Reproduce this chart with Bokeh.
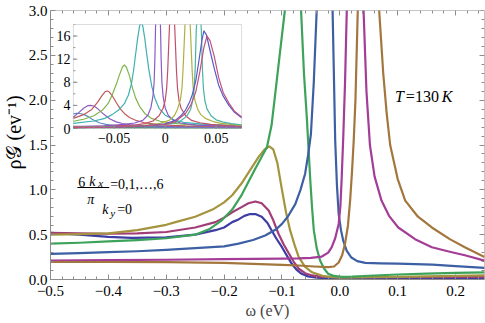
import numpy as np
from bokeh.plotting import figure
from bokeh.models import Range1d, LinearAxis, FixedTicker, Label, BoxAnnotation, Title
from bokeh.core.properties import value
from bokeh.embed import file_html
from bokeh.resources import INLINE

SERIF = "'Liberation Serif', 'Times New Roman', serif"

# ---------------- main plot data (6 kx / pi = 0..6, ky = 0) ----------------
blue1_x = [-0.5, -0.45, -0.4, -0.36, -0.3, -0.25, -0.215, -0.2, -0.186, -0.175, -0.165, -0.155, -0.146, -0.135,
           -0.125, -0.118, -0.11, -0.1, -0.09, -0.083, -0.075, -0.066, -0.055, -0.04, -0.02, 0.0, 0.1, 0.25]
blue1_y = [0.52, 0.50, 0.475, 0.465, 0.47, 0.50, 0.55, 0.58, 0.64, 0.67, 0.71, 0.73, 0.73, 0.70,
           0.63, 0.55, 0.46, 0.36, 0.25, 0.175, 0.11, 0.063, 0.035, 0.02, 0.013, 0.01, 0.01, 0.012]

magenta1_x = [-0.5, -0.45, -0.4, -0.35, -0.3, -0.25, -0.215, -0.2, -0.186, -0.169, -0.158, -0.146, -0.135,
              -0.123, -0.115, -0.106, -0.097, -0.088, -0.08, -0.071, -0.06, -0.048, -0.03, 0.0, 0.1, 0.25]
magenta1_y = [0.52, 0.515, 0.51, 0.515, 0.53, 0.58, 0.64, 0.69, 0.75, 0.81, 0.85, 0.87, 0.85,
              0.77, 0.66, 0.51, 0.39, 0.29, 0.20, 0.12, 0.07, 0.045, 0.03, 0.025, 0.025, 0.03]

olive_x = [-0.5, -0.45, -0.4, -0.35, -0.3, -0.284, -0.25, -0.22, -0.2, -0.186, -0.17, -0.152, -0.14, -0.13,
           -0.122, -0.115, -0.108, -0.1, -0.093, -0.086, -0.078, -0.071, -0.06, -0.048, -0.03, -0.014, 0.0,
           0.05, 0.1, 0.15, 0.2, 0.25]
olive_y = [0.50, 0.505, 0.515, 0.55, 0.61, 0.64, 0.70, 0.78, 0.86, 0.94, 1.07, 1.25, 1.37, 1.45,
           1.485, 1.45, 1.30, 1.00, 0.75, 0.55, 0.38, 0.25, 0.14, 0.08, 0.04, 0.026, 0.022,
           0.025, 0.03, 0.035, 0.04, 0.045]

green_x = [-0.5, -0.45, -0.4, -0.35, -0.3, -0.25, -0.226, -0.204, -0.186, -0.169, -0.157, -0.145, -0.134,
           -0.126, -0.118, -0.112, -0.104, -0.095, -0.088, -0.081, -0.074, -0.067, -0.062, -0.057, -0.054,
           -0.051, -0.048, -0.045, -0.04, -0.034, -0.027, -0.02, -0.01, 0.003, 0.021, 0.05, 0.1, 0.15, 0.2, 0.25]
green_y = [0.40, 0.41, 0.425, 0.44, 0.46, 0.50, 0.56, 0.66, 0.78, 0.95, 1.10, 1.25, 1.38,
           1.475, 1.72, 2.05, 2.5, 3.0, 3.8, 4.5, 4.0, 3.0, 2.3, 1.8, 1.45,
           1.1, 0.8, 0.55, 0.35, 0.21, 0.12, 0.063, 0.04, 0.03, 0.033, 0.042, 0.056, 0.066, 0.074, 0.08]

blue2_x = [-0.5, -0.45, -0.4, -0.35, -0.3, -0.25, -0.2, -0.175, -0.15, -0.129, -0.11, -0.1, -0.09, -0.077,
           -0.068, -0.06, -0.055, -0.05, -0.045, -0.04, -0.034, -0.026, -0.018, -0.0125, -0.008, -0.005,
           -0.002, 0.002, 0.006, 0.012, 0.02, 0.03, 0.044, 0.07, 0.1, 0.13, 0.16, 0.2, 0.25]
blue2_y = [0.285, 0.295, 0.305, 0.315, 0.33, 0.35, 0.37, 0.40, 0.44, 0.49, 0.56, 0.62, 0.70, 0.84,
           1.0, 1.18, 1.38, 1.62, 2.2, 3.0, 4.5, 6.0, 4.5, 3.0, 1.55, 1.05,
           0.73, 0.55, 0.43, 0.32, 0.245, 0.205, 0.185, 0.18, 0.178, 0.172, 0.165, 0.15, 0.13]

magenta2_x = [-0.5, -0.4, -0.3, -0.2, -0.1, -0.071, -0.05, -0.031, -0.02, -0.014, -0.008, -0.002, 0.001,
              0.003, 0.006, 0.009, 0.012, 0.018, 0.026, 0.034, 0.041, 0.046, 0.052, 0.06, 0.072, 0.085,
              0.101, 0.13, 0.159, 0.19, 0.216, 0.25]
magenta2_y = [0.21, 0.215, 0.22, 0.228, 0.233, 0.235, 0.242, 0.256, 0.30, 0.36, 0.46, 0.62, 0.82,
              1.10, 1.6, 2.2, 3.0, 5.0, 6.5, 5.0, 3.0, 2.1, 1.5, 1.15, 0.88, 0.71,
              0.58, 0.45, 0.36, 0.31, 0.27, 0.21]

brown_x = [-0.5, -0.4, -0.3, -0.2, -0.15, -0.1, -0.071, -0.045, -0.02, -0.01, -0.002, 0.004, 0.009, 0.014,
           0.018, 0.021, 0.024, 0.027, 0.031, 0.04, 0.05, 0.06, 0.068, 0.075, 0.081, 0.087, 0.1, 0.113,
           0.135, 0.159, 0.19, 0.216, 0.25]
brown_y = [0.195, 0.195, 0.193, 0.185, 0.175, 0.163, 0.156, 0.145, 0.137, 0.145, 0.19, 0.27, 0.40, 0.6,
           0.9, 1.2, 1.55, 2.0, 3.0, 5.0, 6.0, 4.5, 3.0, 2.3, 1.85, 1.5, 1.12, 0.88,
           0.70, 0.58, 0.45, 0.36, 0.25]

main_series = [
    (blue1_x, blue1_y, "#3d3da3"),
    (magenta1_x, magenta1_y, "#a33d78"),
    (olive_x, olive_y, "#a3943d"),
    (green_x, green_y, "#3da35a"),
    (blue2_x, blue2_y, "#3d5fa3"),
    (magenta2_x, magenta2_y, "#a33d97"),
    (brown_x, brown_y, "#a3763d"),
]

# ---------------- inset data ----------------
in1_x = [-0.09, -0.087, -0.084, -0.08, -0.076, -0.072, -0.068, -0.064, -0.058, -0.05, -0.04, -0.02, 0.0, 0.03, 0.075]
in1_y = [2.55, 2.62, 2.6, 2.45, 2.1, 1.65, 1.25, 0.95, 0.7, 0.52, 0.42, 0.31, 0.25, 0.2, 0.15]

in2_x = [-0.09, -0.085, -0.08, -0.076, -0.073, -0.07, -0.066, -0.062, -0.058, -0.054, -0.048, -0.042, -0.035,
         -0.025, -0.01, 0.01, 0.04, 0.075]
in2_y = [2.0, 2.7, 3.5, 3.95, 4.0, 3.9, 3.4, 2.75, 2.15, 1.65, 1.15, 0.87, 0.66, 0.5, 0.4, 0.32, 0.26, 0.22]

in3_x = [-0.09, -0.08, -0.072, -0.066, -0.062, -0.059, -0.057, -0.055, -0.052, -0.048, -0.044, -0.04, -0.035,
         -0.028, -0.02, -0.01, 0.0, 0.02, 0.05, 0.075]
in3_y = [1.75, 2.4, 3.3, 4.6, 5.7, 6.35, 6.5, 6.35, 5.7, 4.5, 3.4, 2.6, 1.9, 1.35, 1.0, 0.75, 0.6, 0.45, 0.35, 0.3]

in4_x = [-0.09, -0.08, -0.07, -0.062, -0.056, -0.052, -0.048, -0.045, -0.042, -0.04, -0.038, -0.035, -0.032,
         -0.029, -0.025, -0.02, -0.014, -0.005, 0.005, 0.02, 0.04, 0.075]
in4_y = [1.25, 1.6, 2.2, 3.1, 4.3, 5.8, 7.6, 9.2, 10.6, 11.0, 10.6, 9.1, 7.0, 5.3, 3.8, 2.6, 1.8, 1.25, 0.95,
         0.7, 0.55, 0.42]

in5_x = [-0.09, -0.07, -0.06, -0.052, -0.045, -0.04, -0.036, -0.033, -0.031, -0.029, -0.027, -0.025, -0.0235,
         -0.022, -0.02, -0.018, -0.016, -0.013, -0.01, -0.006, 0.0, 0.01, 0.02, 0.04, 0.075]
in5_y = [0.9, 1.3, 1.7, 2.4, 3.3, 4.3, 5.8, 7.8, 10.0, 12.8, 15.6, 17.8, 18.3, 17.8, 15.6, 12.8, 10.2, 7.2,
         5.2, 3.5, 2.3, 1.4, 1.0, 0.7, 0.5]

in6_x = [-0.09, -0.06, -0.04, -0.03, -0.022, -0.017, -0.014, -0.012, -0.0108, -0.01, -0.0095, -0.0088, -0.007,
         -0.0052, -0.0045, -0.004, -0.0032, -0.002, 0.0, 0.003, 0.008, 0.015, 0.03, 0.05, 0.075]
in6_y = [0.3, 0.45, 0.7, 0.95, 1.4, 2.3, 3.6, 5.5, 8.0, 12.5, 17, 22, 26, 22, 17, 12.5, 8.0, 5.5, 3.6, 2.3,
         1.4, 0.95, 0.6, 0.45, 0.35]

in7_x = [-0.09, -0.05, -0.03, -0.02, -0.012, -0.006, -0.002, 0.0, 0.0015, 0.0025, 0.0035, 0.0048, 0.0068,
         0.0088, 0.0101, 0.0111, 0.0121, 0.0136, 0.0156, 0.02, 0.026, 0.034, 0.045, 0.06, 0.075]
in7_y = [0.25, 0.4, 0.6, 0.85, 1.3, 2.2, 3.5, 4.8, 7.0, 10.0, 14.5, 20, 24, 20, 14.5, 10.0, 7.0, 4.8, 3.5,
         2.2, 1.4, 1.0, 0.7, 0.5, 0.4]

in8_x = [-0.09, -0.04, -0.02, -0.005, 0.004, 0.009, 0.012, 0.015, 0.0165, 0.0175, 0.0185, 0.0197, 0.022,
         0.0243, 0.0255, 0.0265, 0.0275, 0.029, 0.032, 0.035, 0.04, 0.047, 0.055, 0.065, 0.075]
in8_y = [0.2, 0.35, 0.55, 0.9, 1.4, 2.2, 3.3, 5.0, 7.0, 10.0, 14.0, 19, 24, 19, 14.0, 10.0, 7.0, 5.0, 3.3,
         2.4, 1.7, 1.2, 0.9, 0.7, 0.55]

in9_x = [-0.09, -0.04, -0.01, 0.005, 0.015, 0.021, 0.025, 0.027, 0.0285, 0.0295, 0.0305, 0.033, 0.0355,
         0.0365, 0.0375, 0.039, 0.041, 0.045, 0.05, 0.057, 0.065, 0.075]
in9_y = [0.15, 0.3, 0.5, 0.8, 1.3, 2.1, 3.3, 4.8, 7.0, 10.5, 17, 24, 17, 10.5, 7.0, 4.8, 3.4, 2.2, 1.5, 1.1,
         0.85, 0.65]

in10_x = [-0.09, -0.05, -0.02, 0.0, 0.01, 0.016, 0.02, 0.024, 0.0265, 0.03, 0.033, 0.036, 0.038, 0.0405,
          0.044, 0.048, 0.0525, 0.057, 0.0625, 0.068, 0.075]
in10_y = [0.15, 0.25, 0.45, 0.8, 1.4, 2.3, 3.2, 4.6, 5.8, 8.2, 11.6, 15.2, 16.9, 16.2, 13.5, 10.5, 7.5, 5.6,
          4.0, 2.8, 1.85]

in11_x = [-0.09, -0.05, -0.02, 0.0, 0.01, 0.02, 0.025, 0.03, 0.034, 0.038, 0.041, 0.044, 0.048, 0.0525,
          0.057, 0.0625, 0.068, 0.075]
in11_y = [0.15, 0.25, 0.45, 0.7, 1.2, 2.6, 4.0, 6.3, 9.8, 14.0, 16.0, 15.2, 12.6, 8.8, 6.2, 4.4, 3.0, 2.0]

flat1_x = [-0.09, 0.075]
flat1_y = [0.15, 0.12]
flat2_x = [-0.09, 0.075]
flat2_y = [0.38, 0.25]

inset_series = [
    (flat1_x, flat1_y, "#3d9954"),
    (flat2_x, flat2_y, "#7a4aa0"),
    (in1_x, in1_y, "#5b8ec4"),
    (in2_x, in2_y, "#8d5cc0"),
    (in3_x, in3_y, "#c05a5a"),
    (in4_x, in4_y, "#7fb54a"),
    (in5_x, in5_y, "#3fb0b0"),
    (in6_x, in6_y, "#8a5ac8"),
    (in7_x, in7_y, "#c0506a"),
    (in8_x, in8_y, "#b0b040"),
    (in9_x, in9_y, "#48b4a0"),
    (in10_x, in10_y, "#5a5ac8"),
    (in11_x, in11_y, "#c05080"),
]

# ---------------- ticks ----------------
x_ticks = [-0.5, -0.4, -0.3, -0.2, -0.1, 0.0, 0.1, 0.2]
x_tick_labels = ["−0.5", "−0.4", "−0.3", "−0.2", "−0.1", "0.0", "0.1", "0.2"]
y_ticks = [0.0, 0.5, 1.0, 1.5, 2.0, 2.5, 3.0]
y_tick_labels = ["0.0", "0.5", "1.0", "1.5", "2.0", "2.5", "3.0"]
x_minor = [round(v, 3) for v in np.arange(-0.5, 0.2501, 0.02)]
y_minor = [round(v, 2) for v in np.arange(0.0, 3.001, 0.1)]

ix_ticks = [-0.05, 0.0, 0.05]
ix_tick_labels = ["−0.05", "0", "0.05"]
iy_ticks = [0, 4, 8, 12, 16]
iy_tick_labels = ["0", "4", "8", "12", "16"]
ix_minor = [round(v, 3) for v in np.arange(-0.08, 0.0751, 0.01)]
iy_minor = [float(v) for v in np.arange(2, 18.1, 2)]

AX = "#8c8c8c"

# frame geometry (pixels inside the 485x323 canvas)
FL, FR, FT, FB = 48, 484, 10, 279
XR = (-0.5, 0.25)
YR = (0.0, 3.0)
# inset frame in pixels and inset data ranges
IL, IR, IT, IB = 71, 240, 24, 128
IXR = (-0.09, 0.075)
IYR = (0.0, 18.0)


def make_axis(ticks, minor, labels, show, size="15px", standoff=3, tin=5, tmin=3, fixed=None):
    ax = LinearAxis() if fixed is None else LinearAxis(fixed_location=fixed)
    ax.ticker = FixedTicker(ticks=ticks, minor_ticks=minor)
    ax.axis_line_color = AX
    ax.major_tick_line_color = AX
    ax.minor_tick_line_color = AX
    ax.major_tick_in = tin
    ax.major_tick_out = 0
    ax.minor_tick_in = tmin
    ax.minor_tick_out = 0
    ax.major_label_text_font = SERIF
    ax.major_label_text_color = "black"
    if show:
        ax.major_label_overrides = dict(zip(ticks, labels))
        ax.major_label_text_font_size = size
        ax.major_label_standoff = standoff
    else:
        ax.major_label_text_font_size = "1px"
        ax.major_label_text_alpha = 0
        ax.major_label_standoff = 0
    return ax


# ---------------- main figure ----------------
p = figure(width=485, height=323, x_range=Range1d(*XR), y_range=Range1d(*YR),
           output_backend="svg", toolbar_location=None, x_axis_type=None, y_axis_type=None,
           min_border_left=FL, min_border_right=485 - FR, min_border_top=FT, min_border_bottom=323 - FB)
p.outline_line_color = None
p.background_fill_color = "white"
p.border_fill_color = "white"

bx = make_axis(x_ticks, x_minor, x_tick_labels, True, standoff=6)
bx.axis_label = "ω (eV)"
bx.axis_label_text_font = SERIF
bx.axis_label_text_font_style = "normal"
bx.axis_label_text_font_size = "16px"
bx.axis_label_standoff = 3
p.add_layout(bx, "below")

ly = make_axis(y_ticks, y_minor, y_tick_labels, True, standoff=3)
p.add_layout(ly, "left")
p.add_layout(Title(text="ρ𝒢 (ev⁻¹)", align="left", offset=110, standoff=1, text_font=SERIF,
                   text_font_size="20px", text_font_style="normal", text_color="black"), "left")
p.add_layout(make_axis(x_ticks, x_minor, x_tick_labels, False, fixed=YR[1]), "above")
p.add_layout(make_axis(y_ticks, y_minor, y_tick_labels, False, fixed=XR[1]), "right")

for xs, ys, c in main_series:
    p.line(xs, ys, line_color=c, line_width=2.2, line_join="round")


def px2x(px):
    return XR[0] + (px - FL) / (FR - FL) * (XR[1] - XR[0])


def py2y(py):
    return YR[0] + (FB - py) / (FB - FT) * (YR[1] - YR[0])


def lab(text, px, py, size, style="normal"):
    p.add_layout(Label(x=px2x(px), y=py2y(py), text=text, text_font=SERIF, text_font_size=size,
                       text_font_style=style, text_color="black",
                       text_align="left", text_baseline="alphabetic"))


# temperature
lab("T", 394, 96, "16px", "italic")
lab("=130", 405, 96, "16px")
lab("K", 441, 96, "16px", "italic")

# fraction 6 kx / pi
lab("6", 76, 181, "14px")
lab("k", 87, 181, "14px", "italic")
lab("x", 96, 182, "11px", "italic")
p.add_layout(BoxAnnotation(left=px2x(75), right=px2x(107), bottom=py2y(187.5), top=py2y(186.5),
                           fill_color="black", fill_alpha=1, line_color=None))
lab("π", 85, 199, "14px", "italic")
lab("=0,1,…,6", 108, 184, "14px")
lab("k", 100, 209, "14px", "italic")
lab("y", 108, 212, "11px", "italic")
lab("=0", 115, 209, "14px")

# ---------------- inset (own data ranges mapped onto the inset box) ----------------
sx = (IXR[1] - IXR[0]) / (IR - IL)
sy = (IYR[1] - IYR[0]) / (IB - IT)
p.extra_x_ranges = {"ix": Range1d(IXR[0] - (IL - FL) * sx, IXR[1] + (FR - IR) * sx)}
p.extra_y_ranges = {"iy": Range1d(IYR[0] - (FB - IB) * sy, IYR[1] + (IT - FT) * sy)}

p.add_layout(BoxAnnotation(left=px2x(IL), right=px2x(IR), bottom=py2y(IB), top=py2y(IT),
                           fill_color="white", fill_alpha=1, line_color=None, level="underlay"))

for xs, ys, c in inset_series:
    p.line(xs, ys, line_color=c, line_width=1.2, line_join="round", x_range_name="ix", y_range_name="iy")

# hide the part of the inset peaks that rises above the inset box
p.add_layout(BoxAnnotation(left=px2x(IL - 1), right=px2x(IR + 1), bottom=py2y(IT), top=YR[1],
                           fill_color="white", fill_alpha=1, line_color=None, level="glyph"))
p.add_layout(BoxAnnotation(left=px2x(IL), right=px2x(IR), bottom=py2y(IB), top=py2y(IT),
                           fill_alpha=0, line_color=AX, line_width=1))

# inset ticks
tkx, tky = 4 * sx, 4 * sy
p.segment(x0=ix_ticks, y0=[IYR[0]] * len(ix_ticks), x1=ix_ticks, y1=[IYR[0] + tky] * len(ix_ticks),
          line_color=AX, line_width=1, x_range_name="ix", y_range_name="iy")
p.segment(x0=ix_minor, y0=[IYR[0]] * len(ix_minor), x1=ix_minor, y1=[IYR[0] + tky / 2] * len(ix_minor),
          line_color=AX, line_width=1, x_range_name="ix", y_range_name="iy")
p.segment(x0=[IXR[0]] * len(iy_ticks), y0=iy_ticks, x1=[IXR[0] + tkx] * len(iy_ticks), y1=iy_ticks,
          line_color=AX, line_width=1, x_range_name="ix", y_range_name="iy")
p.segment(x0=[IXR[0]] * len(iy_minor), y0=iy_minor, x1=[IXR[0] + tkx / 2] * len(iy_minor), y1=iy_minor,
          line_color=AX, line_width=1, x_range_name="ix", y_range_name="iy")

p.text(x=ix_ticks, y=[IYR[0]] * len(ix_ticks), text=ix_tick_labels, x_range_name="ix", y_range_name="iy",
       text_font=value(SERIF), text_font_size=value("14px"), text_color="black",
       text_align="center", text_baseline="top", y_offset=4)
p.text(x=[IXR[0]] * len(iy_ticks), y=iy_ticks, text=iy_tick_labels, x_range_name="ix", y_range_name="iy",
       text_font=value(SERIF), text_font_size=value("14px"), text_color="black",
       text_align="right", text_baseline="middle", x_offset=-3)

open("out.html", "w").write(file_html(p, INLINE))
